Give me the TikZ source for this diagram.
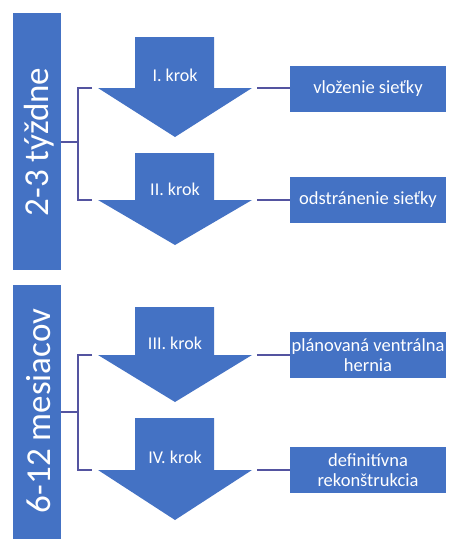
\documentclass[tikz,border=0pt]{standalone}
\usepackage{fontspec}
\setmainfont{Carlito}
\definecolor{boxblue}{RGB}{68,114,196}
\definecolor{linkblue}{RGB}{84,84,160}
\begin{document}
\begin{tikzpicture}[x=1pt,y=-1pt,
  bar/.style={fill=boxblue,draw=none},
  stepbox/.style={fill=boxblue,draw=none,text=white,font=\fontsize{18.5}{20}\selectfont,
    align=center,minimum width=156pt,minimum height=46pt,inner sep=1pt},
  arrowlabel/.style={text=white,font=\fontsize{18}{20}\selectfont},
  barlabel/.style={text=white,rotate=90,font=\fontsize{35}{38}\selectfont},
  link/.style={draw=linkblue,line width=1.8pt}]
\useasboundingbox (0,0) rectangle (449,539);
% period bars
\fill[bar] (13,13) rectangle (61,270);
\fill[bar] (13,285) rectangle (61,539);
\node[barlabel] (p1) at (39,142) {2-3 týždne};
\node[barlabel] (p2) at (39,411) {6-12 mesiacov};
% arrows
\newcommand{\steparrow}[5]{%
  \fill[boxblue] (135,#1) -- (214,#1) -- (214,#2) -- (252,#2) -- (175,#3) -- (98,#2) -- (135,#2) -- cycle;
  \coordinate (#4L) at (98,#2);
  \coordinate (#4R) at (252,#2);
  \node[arrowlabel] (#4t) at (175,#5) {#4};}
\steparrow{37}{88}{137}{I. krok}{75}
\steparrow{153}{200}{245}{II. krok}{189}
\steparrow{307}{355}{402}{III. krok}{343}
\steparrow{418}{470}{520}{IV. krok}{457}
% boxes
\node[stepbox] (b1) at (368,88.5) {vloženie sieťky};
\node[stepbox] (b2) at (368,200) {odstránenie sieťky};
\node[stepbox] (b3) at (368,355) {plánovaná ventrálna\\hernia};
\node[stepbox] (b4) at (368,470) {definitívna\\rekonštrukcia};
% brackets
\coordinate (k1) at (78,142);
\coordinate (k2) at (78,412);
\draw[link] (61,142) -- (k1);
\draw[link] (92,88) -- (78,88) -- (78,200) -- (92,200);
\draw[link] (61,412) -- (k2);
\draw[link] (92,355) -- (78,355) -- (78,470) -- (92,470);
% right connectors
\draw[link] (257,88) -- (b1.west |- 0,88);
\draw[link] (257,200) -- (b2.west |- 0,200);
\draw[link] (257,355) -- (b3.west |- 0,355);
\draw[link] (257,470) -- (b4.west |- 0,470);
\end{tikzpicture}
\end{document}
